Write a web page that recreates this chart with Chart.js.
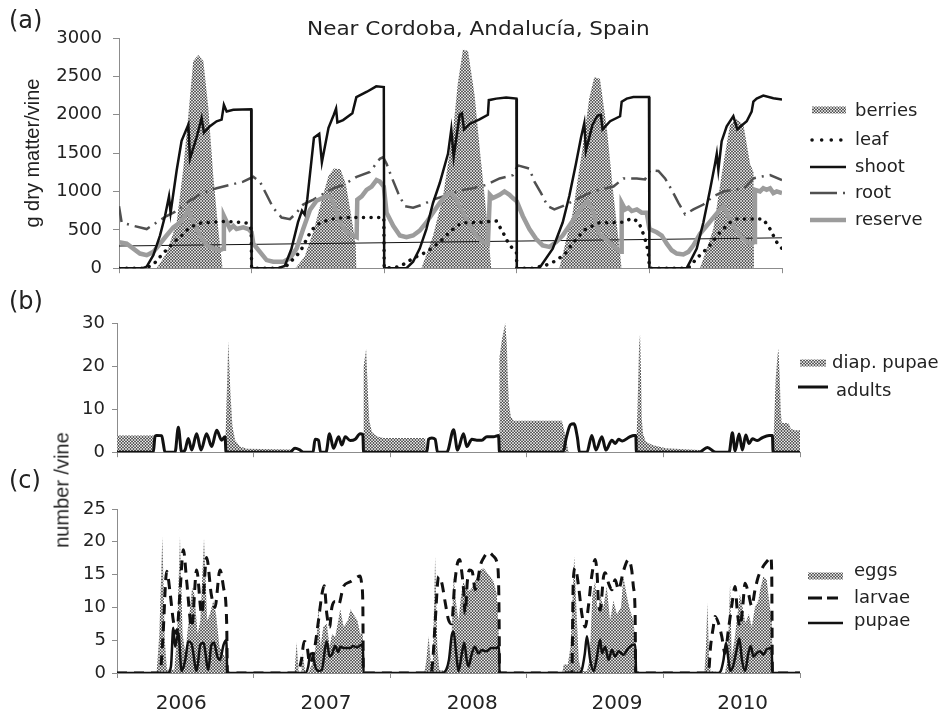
<!DOCTYPE html>
<html>
<head>
<meta charset="utf-8">
<script src="https://cdn.jsdelivr.net/npm/chart.js@4.4.1/dist/chart.umd.min.js"></script>
<style>
  body { margin: 0; background: #fff; }
  #page { position: relative; width: 944px; height: 714px; overflow: hidden; font-family: "DejaVu Sans", sans-serif; color: #222; }
  #page canvas { position: absolute; left: 0; }
  .txt { position: absolute; white-space: nowrap; line-height: 1; }
</style>
</head>
<body>
<div id="page">
  <canvas id="panelA" width="944" height="290" style="top:0"></canvas>
  <canvas id="panelB" width="944" height="180" style="top:290px"></canvas>
  <canvas id="panelC" width="944" height="244" style="top:470px"></canvas>
  <div class="txt" style="left:307px;top:19px;font-size:19.5px;transform:scaleX(1.106);transform-origin:left top">Near Cordoba, Andalucía, Spain</div>
  <div class="txt" style="left:9px;top:8px;font-size:24px">(a)</div>
  <div class="txt" style="left:9px;top:289px;font-size:24px">(b)</div>
  <div class="txt" style="left:9px;top:468px;font-size:24px">(c)</div>
  <div class="txt" style="left:62px;top:490px;font:20px 'Liberation Sans';transform:translate(-50%,-50%) rotate(-90deg)">number /vine</div>
</div>
<script>
// x values are years since 1 Jan 2006
const years = ['2006', '2007', '2008', '2009', '2010'];
const yearEdges = [0, 1, 2, 3, 4, 5];
const yearLabelAt = [0.47, 1.53, 2.6, 3.66, 4.58];

// (a) g dry matter / vine
const berries = [[0,0],[0.284,0],[0.36,200],[0.435,600],[0.485,1300],[0.523,2000],[0.56,2700],[0.598,2780],[0.636,2700],[0.673,2100],[0.711,1200],[0.749,500],[0.781,0],
  [1.33,0],[1.40,150],[1.47,500],[1.53,900],[1.58,1200],[1.62,1300],[1.67,1290],[1.71,1100],[1.75,700],[1.785,300],[1.79,0],
  [2.281,0],[2.368,420],[2.444,940],[2.519,1790],[2.556,2420],[2.594,2850],[2.632,2830],[2.682,2250],[2.719,1580],[2.757,940],[2.782,510],[2.807,0],
  [3.321,0],[3.421,720],[3.496,1570],[3.546,2210],[3.584,2490],[3.627,2470],[3.68,1800],[3.73,940],[3.78,170],[3.79,0],
  [4.382,0],[4.482,510],[4.558,1360],[4.608,1870],[4.658,1940],[4.709,1870],[4.759,1360],[4.785,1250],[4.789,0],[5,0]];
const leaf = [[0,0],[0.2,0],[0.26,50],[0.32,170],[0.37,260],[0.42,350],[0.47,420],[0.52,510],[0.57,560],[0.62,590],[0.70,600],[0.80,610],[0.90,600],[0.96,590],[0.99,550],[0.997,500],[1.0,0],
  [1.22,0],[1.27,40],[1.32,130],[1.366,213],[1.429,425],[1.479,553],[1.53,600],[1.60,640],[1.70,660],[1.85,660],[1.997,660],[2.0,0],
  [2.118,20],[2.218,130],[2.318,210],[2.419,340],[2.506,490],[2.581,590],[2.694,595],[2.845,615],[2.895,470],[2.932,340],[2.97,250],[2.997,200],[3.0,0],
  [3.12,0],[3.22,40],[3.30,100],[3.37,200],[3.42,320],[3.47,420],[3.52,510],[3.57,550],[3.62,590],[3.70,595],[3.80,600],[3.87,650],[3.92,600],[3.94,510],[3.96,420],[3.98,300],[3.995,150],[4.0,0],
  [4.27,0],[4.307,20],[4.357,130],[4.407,210],[4.457,300],[4.495,385],[4.533,470],[4.608,595],[4.658,640],[4.759,640],[4.859,640],[4.884,575],[4.91,510],[4.935,425],[4.96,340],[5,255]];
const shoot = [[0,0],[0.18,0],[0.209,21],[0.259,170],[0.309,425],[0.347,680],[0.377,936],[0.389,723],[0.435,1277],[0.472,1660],[0.523,1872],[0.535,1425],[0.585,1702],[0.623,1957],[0.641,1766],[0.686,1851],[0.736,1915],[0.774,1936],[0.791,2128],[0.812,2042],[0.862,2064],[0.997,2072],[1.0,0],
  [1.2,0],[1.25,30],[1.30,250],[1.35,600],[1.38,750],[1.40,700],[1.42,900],[1.47,1700],[1.51,1750],[1.53,1380],[1.58,1830],[1.62,2000],[1.637,2080],[1.647,1900],[1.69,1930],[1.76,2020],[1.79,2230],[1.87,2300],[1.94,2370],[1.997,2360],[2.0,0],
  [2.168,0],[2.218,85],[2.268,255],[2.318,510],[2.368,850],[2.419,1110],[2.481,1490],[2.506,1810],[2.524,1450],[2.569,2000],[2.586,2020],[2.602,1810],[2.644,1880],[2.719,1940],[2.782,2000],[2.789,2190],[2.845,2210],[2.92,2225],[2.997,2210],[3.0,0],
  [3.17,0],[3.271,255],[3.346,595],[3.396,940],[3.446,1360],[3.484,1700],[3.509,1890],[3.521,1530],[3.571,1870],[3.609,1990],[3.634,2000],[3.647,1810],[3.704,1915],[3.779,1980],[3.791,2170],[3.829,2210],[3.879,2230],[3.997,2230],[4.0,0],
  [4.281,0],[4.307,85],[4.357,255],[4.407,595],[4.457,1020],[4.495,1360],[4.508,1490],[4.52,1280],[4.545,1655],[4.583,1850],[4.633,1980],[4.663,1810],[4.734,1915],[4.771,2040],[4.784,2170],[4.809,2210],[4.859,2250],[4.935,2215],[5,2200]];
const root = [[0,808],[0.02,596],[0.108,553],[0.209,510],[0.284,596],[0.359,680],[0.435,745],[0.51,851],[0.585,936],[0.661,1000],[0.736,1042],[0.837,1085],[0.937,1128],[1.013,1191],[1.063,1128],[1.113,957],[1.163,787],[1.226,660],[1.289,638],[1.339,723],[1.389,830],[1.466,894],[1.617,1042],[1.692,1085],[1.792,1191],[1.892,1255],[1.967,1425],[1.992,1447],[2.018,1362],[2.055,1191],[2.105,979],[2.155,808],[2.218,787],[2.293,830],[2.368,894],[2.444,936],[2.519,979],[2.594,1021],[2.669,1042],[2.769,1085],[2.87,1170],[2.97,1213],[3.008,1340],[3.095,1298],[3.133,1128],[3.183,979],[3.233,808],[3.283,766],[3.346,808],[3.421,872],[3.496,936],[3.571,1000],[3.672,1042],[3.729,1064],[3.804,1170],[3.905,1170],[3.967,1157],[4.005,1277],[4.068,1268],[4.118,1170],[4.168,1021],[4.219,851],[4.269,702],[4.332,766],[4.407,830],[4.482,936],[4.558,1000],[4.633,1021],[4.709,1034],[4.784,1170],[4.834,1191],[4.91,1213],[5,1149]];
const reserve = [[0,340],[0.058,319],[0.108,255],[0.158,191],[0.209,170],[0.259,213],[0.309,319],[0.359,426],[0.41,532],[0.46,596],[0.497,681],[0.523,766],[0.56,596],[0.611,426],[0.661,298],[0.711,255],[0.761,234],[0.786,255],[0.791,681],[0.837,511],[0.862,553],[0.887,511],[0.937,532],[0.975,511],[1.0,468],
  [1.013,319],[1.113,106],[1.163,85],[1.239,85],[1.289,128],[1.339,255],[1.389,511],[1.44,760],[1.49,880],[1.54,920],[1.59,936],[1.617,850],[1.667,596],[1.717,468],[1.767,426],[1.792,404],[1.797,894],[1.83,936],[1.867,1021],[1.905,1064],[1.942,1149],[1.967,1128],[1.997,1064],
  [2.018,723],[2.068,553],[2.118,426],[2.168,404],[2.218,426],[2.268,489],[2.318,596],[2.368,723],[2.419,851],[2.469,957],[2.506,979],[2.544,894],[2.594,723],[2.644,553],[2.694,426],[2.744,340],[2.782,319],[2.797,957],[2.82,915],[2.87,957],[2.907,1000],[2.945,957],[2.97,915],[3.0,872],
  [3.045,681],[3.095,511],[3.145,383],[3.195,298],[3.246,277],[3.296,340],[3.346,426],[3.396,553],[3.446,681],[3.496,808],[3.534,872],[3.571,766],[3.62,450],[3.67,380],[3.72,300],[3.77,230],[3.786,215],[3.791,851],[3.817,766],[3.842,787],[3.867,745],[3.905,766],[3.942,723],[3.98,723],[4.0,511],
  [4.055,468],[4.093,426],[4.131,319],[4.168,234],[4.206,191],[4.256,179],[4.294,213],[4.332,298],[4.382,447],[4.432,553],[4.482,660],[4.533,766],[4.558,808],[4.583,723],[4.633,553],[4.683,426],[4.734,340],[4.771,319],[4.789,340],[4.796,1021],[4.834,1000],[4.859,1042],[4.884,1021],[4.91,1042],[4.935,979],[4.96,1000],[5,979]];
const trend = [[0,289],[5,396]];

// (b) number / vine
const diapPupae = [[0,3.9],[0.266,3.9],[0.268,0],[0.79,0],[0.795,4],[0.805,15],[0.815,25.8],[0.83,14],[0.845,6],[0.865,2.8],[0.9,1.3],[0.95,0.8],[1.27,0.6],[1.28,0],
  [1.803,0],[1.806,20],[1.824,24],[1.837,13.4],[1.847,7.3],[1.866,4.7],[1.9,3.7],[1.95,3.3],[2.256,3.3],[2.264,0],
  [2.798,0],[2.80,22],[2.817,26],[2.842,30],[2.854,24.9],[2.861,17.3],[2.869,11.3],[2.883,8.3],[2.903,7.3],[3.257,7.3],[3.281,4],[3.306,0],
  [3.80,0],[3.81,9.6],[3.822,24.9],[3.829,27.4],[3.837,17],[3.841,8],[3.851,4.3],[3.871,2.4],[3.919,1.7],[4.017,0.9],[4.261,0.5],[4.273,0],
  [4.803,0],[4.822,17],[4.835,22.4],[4.842,24],[4.852,17],[4.859,9.6],[4.866,6.8],[4.896,6.8],[4.92,6.6],[4.932,5.4],[4.969,5.1],[5,5.1]];
const adults = [[0,0],[0.266,0],[0.278,3.6],[0.29,3.9],[0.327,3.85],[0.339,2.0],[0.351,0],[0.425,0],[0.449,5.8],[0.473,0],[0.498,0.5],[0.522,3.2],[0.547,0.5],[0.583,4.3],[0.615,0.5],[0.656,4.3],[0.693,1.3],[0.73,5.1],[0.766,2.8],[0.791,3.6],[0.798,0],
  [1.266,0],[1.303,0.9],[1.34,0.5],[1.364,0],[1.435,0],[1.45,3.0],[1.475,2.8],[1.49,0],[1.53,0],[1.556,4.3],[1.585,0.9],[1.622,3.6],[1.646,1.7],[1.671,3.6],[1.707,2.7],[1.744,3.0],[1.78,4.3],[1.80,4.1],[1.805,0],
  [2.268,0],[2.281,3.0],[2.305,3.3],[2.329,3.0],[2.347,0],[2.415,0],[2.464,5.2],[2.493,0.5],[2.537,4.3],[2.561,1.3],[2.598,3.0],[2.634,2.8],[2.671,2.8],[2.708,3.6],[2.756,3.6],[2.793,3.9],[2.80,0],
  [3.265,0],[3.29,3.5],[3.32,6.4],[3.345,6.6],[3.37,3.5],[3.386,0],[3.44,0],[3.476,3.9],[3.506,0.5],[3.55,3.6],[3.579,0.5],[3.623,2.8],[3.648,2.0],[3.672,3.0],[3.70,2.6],[3.75,3.5],[3.785,3.9],[3.798,3.9],[3.802,0],
  [4.261,0],[4.322,1.1],[4.383,0],[4.481,0],[4.505,4.5],[4.525,0.3],[4.554,4.2],[4.578,0.5],[4.603,4.0],[4.627,2.0],[4.652,3.1],[4.688,2.7],[4.725,3.4],[4.774,3.9],[4.798,3.9],[4.803,0],[5,0]];

// (c) number / vine
const eggs = [[0,0],[0.29,0],[0.31,6],[0.332,20.8],[0.35,5],[0.365,0.5],[0.42,0.5],[0.44,6],[0.461,20.8],[0.48,6],[0.5,3],[0.53,9],[0.55,13],[0.566,12],[0.59,6],[0.61,8],[0.637,20.5],[0.66,8],[0.68,9],[0.705,11],[0.725,9],[0.75,4],[0.775,3],[0.8,2],[0.81,0],
  [1.30,0],[1.315,4.7],[1.33,0],[1.35,0],[1.36,3],[1.375,0.5],[1.40,0],[1.44,2],[1.46,5],[1.475,10.2],[1.49,4],[1.51,7],[1.536,7.5],[1.556,4],[1.575,6],[1.597,5.5],[1.62,8],[1.634,9.7],[1.66,7],[1.69,8],[1.71,9.7],[1.73,9],[1.76,8],[1.78,6],[1.80,6],[1.805,0],
  [2.25,0],[2.265,2],[2.281,5.6],[2.30,1],[2.312,1.8],[2.329,17.8],[2.345,4],[2.36,0.5],[2.40,0.3],[2.43,1],[2.45,6],[2.464,14.7],[2.48,11],[2.50,8],[2.52,12],[2.537,14],[2.55,13],[2.573,12.5],[2.60,13],[2.62,14],[2.659,15.7],[2.683,16],[2.72,15],[2.756,14],[2.78,12],[2.795,6],[2.80,0],
  [3.26,0],[3.27,1.3],[3.30,1.3],[3.32,4],[3.347,17.8],[3.365,9],[3.38,2],[3.40,0.3],[3.44,0.3],[3.46,2],[3.48,12],[3.50,14],[3.52,9],[3.537,12],[3.56,10],[3.585,13.2],[3.61,8],[3.634,11],[3.66,9],[3.69,10],[3.707,14.7],[3.73,12],[3.75,10],[3.78,8],[3.795,5],[3.80,0],
  [4.30,0],[4.312,4],[4.322,10.7],[4.335,2],[4.345,0.3],[4.45,0],[4.47,2],[4.488,13.7],[4.50,2.5],[4.52,5],[4.537,8],[4.56,12],[4.58,10],[4.60,7.6],[4.625,9],[4.647,7],[4.67,10],[4.695,11],[4.708,12.7],[4.732,14.7],[4.756,14.2],[4.77,11.7],[4.786,9],[4.795,8],[4.798,0],[5,0]];
const larvae = [[0,0],[0.315,0],[0.335,5],[0.364,15.5],[0.39,12],[0.412,8],[0.437,6],[0.46,12],[0.486,18.8],[0.51,14],[0.547,7],[0.583,15.7],[0.62,9],[0.656,17.6],[0.69,12],[0.717,10],[0.754,15.7],[0.78,13],[0.803,7.6],[0.808,0],
  [1.32,0],[1.35,2],[1.37,4.8],[1.39,4.3],[1.41,1.5],[1.44,3],[1.475,8],[1.50,12],[1.517,13.3],[1.536,9],[1.556,7],[1.573,10],[1.597,10.9],[1.622,10.4],[1.658,13.2],[1.707,13.9],[1.75,14.5],[1.78,14.8],[1.793,13.2],[1.80,10],[1.803,0],
  [2.30,0],[2.312,2],[2.33,8],[2.354,14.7],[2.378,13.7],[2.403,10.7],[2.427,8.1],[2.45,7.5],[2.47,13],[2.49,16.5],[2.508,17.3],[2.525,15.2],[2.537,12.7],[2.549,9.1],[2.565,14],[2.58,15.7],[2.60,15.5],[2.622,12.7],[2.64,14],[2.659,16.3],[2.683,17.5],[2.72,18.4],[2.756,17.8],[2.78,17.0],[2.793,14.2],[2.798,6.5],[2.80,0],
  [3.33,0],[3.34,14],[3.355,16],[3.379,13.2],[3.403,9],[3.428,7],[3.45,10],[3.475,14.7],[3.501,17.3],[3.515,15],[3.525,10.5],[3.537,9.6],[3.562,14.7],[3.574,15.3],[3.598,13.7],[3.623,12.7],[3.647,14.2],[3.671,12.7],[3.707,15.5],[3.744,17.3],[3.768,15.7],[3.78,13.2],[3.793,9],[3.797,0],
  [4.33,0],[4.345,4],[4.366,7.1],[4.378,8.6],[4.403,7.6],[4.427,5.6],[4.451,3],[4.476,6.6],[4.50,10.2],[4.525,13.2],[4.542,9.1],[4.561,7.1],[4.581,10.2],[4.598,13.7],[4.622,12.2],[4.647,10.2],[4.671,12.7],[4.695,14.7],[4.732,16.3],[4.769,17.3],[4.786,17.7],[4.793,15.2],[4.798,0],[5,0]];
const pupae = [[0,0],[0.37,0],[0.395,1],[0.412,6.9],[0.425,4],[0.449,6.1],[0.473,0.3],[0.50,2],[0.522,4.8],[0.545,4.5],[0.583,0.3],[0.61,4.3],[0.632,4.6],[0.669,0.5],[0.69,4.2],[0.71,4.6],[0.735,2.5],[0.754,2.0],[0.78,4.3],[0.80,5.0],[0.808,0],
  [1.38,0],[1.40,1],[1.414,2.8],[1.43,3],[1.451,1],[1.475,0.3],[1.50,0.5],[1.525,4],[1.536,4.8],[1.556,2.5],[1.573,2.8],[1.597,4.1],[1.62,3.2],[1.634,4.0],[1.66,3.8],[1.707,3.8],[1.73,4.1],[1.76,3.9],[1.78,4.2],[1.80,4.3],[1.805,0],
  [2.38,0],[2.41,0.5],[2.43,2],[2.451,5.8],[2.464,6.3],[2.483,3],[2.50,0.3],[2.525,3],[2.542,4.6],[2.56,2],[2.573,1],[2.598,3],[2.62,4],[2.645,3],[2.67,3.5],[2.70,3.3],[2.74,3.8],[2.78,3.8],[2.797,4.1],[2.80,0],
  [3.38,0],[3.40,0.3],[3.425,3],[3.44,5.6],[3.464,2],[3.489,0.3],[3.51,2],[3.537,5.1],[3.55,3],[3.574,4],[3.598,2],[3.623,3.5],[3.647,2.5],[3.671,3.3],[3.707,2.8],[3.744,3.8],[3.78,4.3],[3.795,4.3],[3.80,0],
  [4.40,0],[4.42,0.3],[4.44,2],[4.459,4.6],[4.476,2],[4.49,0.3],[4.51,1],[4.537,3.6],[4.556,5.3],[4.575,2],[4.598,0.3],[4.622,3],[4.639,4.1],[4.66,2.5],[4.683,3],[4.708,3.3],[4.732,2.8],[4.756,3.6],[4.793,3.8],[4.798,0],[5,0]];

const pts = arr => arr.map(([x, y]) => ({ x, y }));

// small dotted tile used as the fill of the area series
function hatch() {
  const c = document.createElement('canvas');
  c.width = 3; c.height = 3;
  const g = c.getContext('2d');
  g.fillStyle = '#bdbdbd'; g.fillRect(0, 0, 3, 3);
  g.fillStyle = '#5e5e5e';
  g.fillRect(1, 0, 1, 1); g.fillRect(0, 1, 1, 1); g.fillRect(2, 1, 1, 1); g.fillRect(1, 2, 1, 1);
  g.fillStyle = '#ffffff'; g.fillRect(1, 1, 1, 1);
  return g.createPattern(c, 'repeat');
}
const pattern = hatch();

// legend drawn beside the plot using each dataset's own style
const sideLegend = {
  id: 'sideLegend',
  afterDraw(chart, args, opts) {
    const ctx = chart.ctx;
    ctx.save();
    ctx.font = '18px "DejaVu Sans"';
    ctx.textBaseline = 'middle';
    opts.items.forEach(it => {
      const ds = chart.data.datasets[it.ds];
      if (it.box) {
        ctx.fillStyle = ds.backgroundColor;
        ctx.fillRect(it.x0, it.y - it.box / 2, it.x1 - it.x0, it.box);
      } else {
        ctx.beginPath();
        ctx.setLineDash(it.dash || ds.borderDash || []);
        ctx.lineCap = ds.borderCapStyle || 'butt';
        ctx.lineWidth = ds.borderWidth;
        ctx.strokeStyle = ds.borderColor;
        ctx.moveTo(it.x0, it.y);
        ctx.lineTo(it.x1, it.y);
        ctx.stroke();
        ctx.setLineDash([]);
      }
      ctx.fillStyle = '#222';
      ctx.fillText(ds.label, it.tx, it.ty || it.y);
    });
    ctx.restore();
  }
};

function xAxis(showYears, height) {
  return {
    type: 'linear', min: 0, max: 5,
    afterBuildTicks: s => {
      const vals = showYears ? yearEdges.concat(yearLabelAt).sort((a, b) => a - b) : yearEdges;
      s.ticks = vals.map(v => ({ value: v }));
    },
    ticks: {
      display: showYears, autoSkip: false, maxRotation: 0, padding: 14,
      font: { size: 20 }, color: '#222',
      callback: v => { const i = yearLabelAt.indexOf(v); return i < 0 ? '' : years[i]; }
    },
    grid: {
      drawOnChartArea: false, tickLength: 5,
      color: c => (c.tick && yearEdges.includes(c.tick.value)) ? '#8c8c8c' : 'rgba(0,0,0,0)'
    },
    border: { color: '#8c8c8c' },
    afterFit: s => { s.height = height; }
  };
}

function yAxis(max, step, width, tickLen, pad, title) {
  return {
    min: 0, max: max,
    ticks: { stepSize: step, padding: pad, font: { size: 18 }, color: '#222', callback: v => String(v) },
    grid: { drawOnChartArea: false, tickLength: tickLen, color: '#8c8c8c' },
    border: { color: '#8c8c8c' },
    title: title
      ? { display: true, text: title, color: '#222', font: { family: 'Liberation Sans', size: 20 }, padding: { top: 21, bottom: 0 } }
      : { display: false },
    afterFit: s => { s.width = width; }
  };
}

function panel(id, datasets, x, y, padding, legendItems) {
  return new Chart(document.getElementById(id), {
    type: 'line',
    data: { datasets },
    options: {
      responsive: false,
      animation: false,
      events: [],
      layout: { padding },
      elements: { point: { radius: 0 }, line: { tension: 0 } },
      plugins: { legend: { display: false }, tooltip: { enabled: false }, sideLegend: { items: legendItems } },
      scales: { x, y }
    },
    plugins: [sideLegend]
  });
}

Chart.defaults.font.family = '"DejaVu Sans"';
Chart.defaults.color = '#222';

panel('panelA', [
  { label: 'berries', data: pts(berries), borderWidth: 0, borderColor: 'rgba(0,0,0,0)', backgroundColor: pattern, fill: 'origin', order: 6 },
  { label: 'leaf', data: pts(leaf), borderColor: '#111', borderWidth: 3.5, borderDash: [0.1, 7.5], borderCapStyle: 'round', order: 2 },
  { label: 'shoot', data: pts(shoot), borderColor: '#111', borderWidth: 2.5, order: 1 },
  { label: 'root', data: pts(root), borderColor: '#505050', borderWidth: 2.5, borderDash: [16, 6, 2, 6], order: 4 },
  { label: 'reserve', data: pts(reserve), borderColor: '#9c9c9c', borderWidth: 4.5, order: 3 },
  { label: '', data: pts(trend), borderColor: '#111', borderWidth: 1, order: 5 }
], xAxis(false, 17), yAxis(3000, 500, 119, 6, 11, 'g dry matter/vine'),
  { top: 38, right: 162, left: 0, bottom: 0 },
  [
    { ds: 0, x0: 812, x1: 846, y: 110, box: 7, tx: 855, ty: 111 },
    { ds: 1, x0: 812, x1: 844, y: 140, tx: 855, dash: [0.1, 9.5] },
    { ds: 2, x0: 810, x1: 846, y: 167, tx: 855 },
    { ds: 3, x0: 810, x1: 848, y: 193, tx: 855, dash: [27, 6, 2, 6] },
    { ds: 4, x0: 810, x1: 846, y: 220, tx: 855 }
  ]);

panel('panelB', [
  { label: 'diap. pupae', data: pts(diapPupae), borderWidth: 0, borderColor: 'rgba(0,0,0,0)', backgroundColor: pattern, fill: 'origin', order: 2 },
  { label: 'adults', data: pts(adults), borderColor: '#111', borderWidth: 3, cubicInterpolationMode: 'monotone', order: 1 }
], xAxis(false, 14), yAxis(30, 10, 117, 5, 7),
  { top: 33, right: 144, left: 0, bottom: 0 },
  [
    { ds: 0, x0: 800, x1: 826, y: 73, box: 7, tx: 832 },
    { ds: 1, x0: 798, x1: 828, y: 97, tx: 836, ty: 101 }
  ]);

panel('panelC', [
  { label: 'eggs', data: pts(eggs), borderWidth: 0, borderColor: 'rgba(0,0,0,0)', backgroundColor: pattern, fill: 'origin', order: 3 },
  { label: 'larvae', data: pts(larvae), borderColor: '#111', borderWidth: 3, borderDash: [10, 7], cubicInterpolationMode: 'monotone', order: 2 },
  { label: 'pupae', data: pts(pupae), borderColor: '#111', borderWidth: 2.5, cubicInterpolationMode: 'monotone', order: 1 }
], xAxis(true, 41), yAxis(25, 5, 117, 5, 6),
  { top: 39, right: 144, left: 0, bottom: 0 },
  [
    { ds: 0, x0: 808, x1: 843, y: 106, box: 7, tx: 854, ty: 101 },
    { ds: 1, x0: 808, x1: 838, y: 128, tx: 854, dash: [14, 5] },
    { ds: 2, x0: 808, x1: 843, y: 153, tx: 854, ty: 151 }
  ]);
</script>
</body>
</html>
